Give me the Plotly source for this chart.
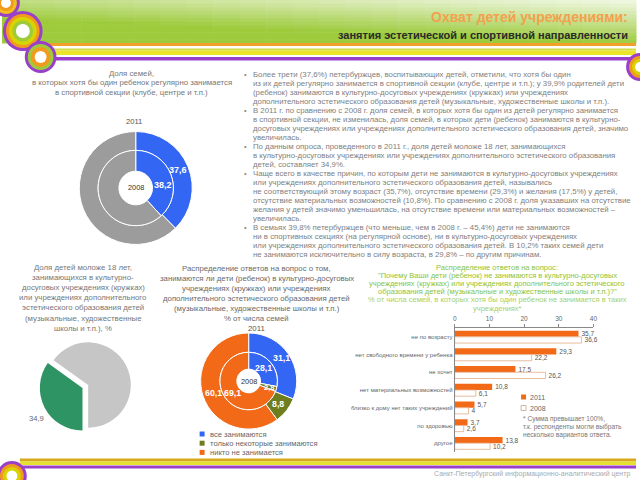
import plotly.graph_objects as go

W, H = 640, 480
FONT = "Liberation Sans, Arial, sans-serif"

# ---------------- data ----------------
sport_labels = ["занимается", "не занимается"]
sport_2011 = [37.6, 62.4]
sport_2008 = [38.2, 61.8]

kids_labels = ["занимаются", "не занимаются"]
kids_values = [34.9, 65.1]

cult_labels = ["все занимаются", "только некоторые занимаются", "никто не занимается"]
cult_2011 = [31.1, 8.8, 60.1]
cult_2008 = [28.1, 2.8, 69.1]

reasons = ["не по возрасту", "нет свободного времени у ребенка", "не хочет",
           "нет материальных возможностей", "близко к дому нет таких учреждений",
           "по здоровью", "другое"]
reasons_2011 = [35.7, 29.3, 17.5, 10.8, 5.7, 3.7, 13.8]
reasons_2008 = [36.6, 22.2, 26.2, 6.1, 4.0, 2.6, 10.2]
bar_ticks = [0, 10, 20, 30, 40]
bar_years = ["2011", "2008"]


def fmt(v):
    return f"{v:g}".replace(".", ",")


def dom(cx, cy, r):
    return dict(x=[(cx - r) / W, (cx + r) / W], y=[1 - (cy + r) / H, 1 - (cy - r) / H])


BLUE, OLIVE, ORANGE = "#3366f2", "#6e7d1e", "#f26a18"
GRAY_D, GRAY_L, GREEN = "#9c9c9c", "#c6c6c6", "#2f9463"

fig = go.Figure()

# top-left nested donut (sport)
fig.add_trace(go.Pie(values=sport_2011, labels=sport_labels, sort=False, direction="clockwise",
                     hole=38 / 57, domain=dom(135, 188, 57), textinfo="none", hoverinfo="skip",
                     marker=dict(colors=[BLUE, GRAY_D], line=dict(color="white", width=1)), showlegend=False))
fig.add_trace(go.Pie(values=sport_2008, labels=sport_labels, sort=False, direction="clockwise",
                     hole=17 / 38, domain=dom(135, 188, 38), textinfo="none", hoverinfo="skip",
                     marker=dict(colors=[BLUE, GRAY_D], line=dict(color="white", width=1)), showlegend=False))

# bottom-left pie (kids)
fig.add_trace(go.Pie(values=kids_values, labels=kids_labels, sort=False, direction="clockwise",
                     rotation=180, pull=[0.15, 0], domain=dom(87, 385, 49.5), textinfo="none",
                     hoverinfo="skip", marker=dict(colors=[GREEN, GRAY_L], line=dict(color="white", width=0)),
                     showlegend=False))

# bottom-middle nested donut (culture)
CX, CY = 249, 381
fig.add_trace(go.Pie(values=cult_2011, labels=cult_labels, sort=False, direction="clockwise",
                     hole=29 / 48.5, domain=dom(CX, CY, 48.5), textinfo="none", hoverinfo="skip",
                     marker=dict(colors=[BLUE, OLIVE, ORANGE], line=dict(color="white", width=1)), showlegend=False))
fig.add_trace(go.Pie(values=cult_2008, labels=cult_labels, sort=False, direction="clockwise",
                     hole=12 / 29, domain=dom(CX, CY, 29), textinfo="none", hoverinfo="skip",
                     marker=dict(colors=[BLUE, OLIVE, ORANGE], line=dict(color="white", width=1)), showlegend=False))

# bar chart
fig.add_trace(go.Bar(y=reasons, x=reasons_2011, orientation="h", name=bar_years[0],
                     marker=dict(color=ORANGE, line=dict(width=0)),
                     text=[fmt(v) for v in reasons_2011], textposition="outside", constraintext="none",
                     textfont=dict(family=FONT, size=6.5, color="#555"), cliponaxis=False, showlegend=False))
fig.add_trace(go.Bar(y=reasons, x=reasons_2008, orientation="h", name=bar_years[1],
                     marker=dict(color="white", line=dict(color="#e2ac86", width=0.8)),
                     text=[fmt(v) for v in reasons_2008], textposition="outside", constraintext="none",
                     textfont=dict(family=FONT, size=6.5, color="#555"), cliponaxis=False, showlegend=False))

shapes = []
ann = []


def txt(s, x, y, size=7.6, color="#777", xa="center", ya="middle", bold=False):
    if bold:
        s = f"<b>{s}</b>"
    ann.append(dict(text=s, x=x / W, y=1 - y / H, xref="paper", yref="paper", xanchor=xa, yanchor=ya,
                    showarrow=False, borderpad=0, font=dict(family=FONT, size=size, color=color)))


def rect(x0, y0, x1, y1, color, layer="below"):
    shapes.append(dict(type="rect", xref="paper", yref="paper", x0=x0 / W, x1=x1 / W,
                       y0=1 - y1 / H, y1=1 - y0 / H, fillcolor=color, line=dict(width=0), layer=layer))


def circ(cx, cy, r, color, layer="below"):
    shapes.append(dict(type="circle", xref="paper", yref="paper", x0=(cx - r) / W, x1=(cx + r) / W,
                       y0=1 - (cy + r) / H, y1=1 - (cy - r) / H, fillcolor=color, line=dict(width=0),
                       layer=layer))


# header gradient
cols, rows = 24, 12
g = (157, 203, 60)
for i in range(cols):
    for j in range(rows):
        x0, x1 = i * W / cols, (i + 1) * W / cols
        y0, y1 = j * 43 / rows, (j + 1) * 43 / rows
        xm, ym = (x0 + x1) / 2, (y0 + y1) / 2
        t = min(1.0, max(0.0, 0.12 + ym / 43 * 0.85 + (1 - xm / W) * 0.5))
        c = tuple(int(255 + (gc - 255) * t) for gc in g)
        rect(x0, y0, x1 + 0.5, y1 + 0.5, "rgb(%d,%d,%d)" % c)

# header stripes
rect(45, 43, 640, 46, "#f2a02a")
rect(45, 48.5, 640, 50.5, "#cfdc46")
rect(45, 50.5, 640, 55, "#ece428")
rect(50, 57, 640, 60.5, "#9a3fc8")
# footer stripes
rect(18, 458.5, 640, 461.5, "#d8a81c")
rect(18, 461.5, 640, 465, "#e6e030")
rect(18, 465.5, 640, 468.5, "#9a3fc8")

PURP, ORG, YEL, LGR = "#9a3fc8", "#f29a1e", "#d8d400", "#9dcb3c"
for cx, cy, rings in [
    (4, 3, [(14, PURP), (11, "#f2c01e"), (8, ORG), (5, "white")]),
    (21, 31, [(20, PURP), (17, ORG), (14, YEL), (10.5, LGR), (7, "white")]),
    (39, 57, [(16, PURP), (13, LGR), (10, ORG), (6, "white")]),
    (644, 67, [(14, PURP), (11, ORG), (8, YEL), (5, "white")]),
    (10, 476, [(15, PURP), (12, ORG), (9, YEL), (5.5, "white")]),
]:
    for r, c in rings:
        circ(cx, cy, r, c)

# titles
txt("Охват детей учреждениями:", 633, 17, size=14, color="#f4a04e", xa="right", bold=True)
txt("занятия эстетической и спортивной направленности", 633, 35, size=11, color="#2a2a2a", xa="right", bold=True)

# text block
lines = [
    "Более трети (37,6%) петербуржцев, воспитывающих детей, отметили, что хотя бы один",
    "из их детей регулярно занимается в спортивной секции (клубе, центре и т.п.); у 39,9% родителей дети",
    "(ребенок) занимаются в культурно-досуговых учреждениях (кружках) или учреждениях",
    "дополнительного эстетического образования детей (музыкальные, художественные школы и т.п.).",
    "В 2011 г. по сравнению с 2008 г. доля семей, в которых хотя бы один из детей регулярно занимается",
    "в спортивной секции, не изменилась, доля семей, в которых дети (ребенок) занимаются в культурно-",
    "досуговых учреждениях или учреждениях дополнительного эстетического образования детей, значимо",
    "увеличилась.",
    "По данным опроса, проведенного в 2011 г., доля детей моложе 18 лет, занимающихся",
    "в культурно-досуговых учреждениях или учреждениях дополнительного эстетического образования",
    "детей, составляет 34,9%.",
    "Чаще всего в качестве причин, по которым дети не занимаются в культурно-досуговых учреждениях",
    "или учреждениях дополнительного эстетического образования детей, назывались",
    "не соответствующий этому возраст (35,7%), отсутствие времени (29,3%) и желания (17,5%) у детей,",
    "отсутствие материальных возможностей (10,8%). По сравнению с 2008 г. доля указавших на отсутствие",
    "желания у детей значимо уменьшилась, на отсутствие времени или материальных возможностей –",
    "увеличилась.",
    "В семьях 39,8% петербуржцев (что меньше, чем в 2008 г. – 45,4%) дети не занимаются",
    "ни в спортивных секциях (на регулярной основе), ни в культурно-досуговых учреждениях",
    "или учреждениях дополнительного эстетического образования детей. В 10,2% таких семей дети",
    "не занимаются исключительно в силу возраста, в 29,8% – по другим причинам.",
]
bullets = {0, 4, 8, 11, 17}
for i, s in enumerate(lines):
    y = 74.5 + 9.0 * i
    txt(s, 252, y, size=7.8, color="#808080", xa="left")
    if i in bullets:
        txt("•", 243, y, size=7.5, color="#8a8a8a", xa="left")

# top-left donut texts
for k, s in enumerate(["Доля семей,", "в которых хотя бы один ребенок регулярно занимается",
                       "в спортивной секции (клубе, центре и т.п.)"]):
    txt(s, 131, 73 + 10 * k, size=7.8)
txt("2011", 133, 121, size=7.6, color="#555")
txt("2008", 135, 188, size=7.4, color="#333")
txt(fmt(sport_2011[0]), 178, 170, size=9, color="white", bold=True)
txt(fmt(sport_2008[0]), 163, 185, size=9, color="white", bold=True)

# bottom-left pie texts
for k, s in enumerate(["Доля детей моложе 18 лет,", "занимающихся в культурно-",
                       "досуговых учреждениях (кружках)", "или учреждениях дополнительного",
                       "эстетического образования детей", "(музыкальные, художественные",
                       "школы и т.п.), %"]):
    txt(s, 82, 267 + 10.2 * k, size=7.8)
txt(fmt(kids_values[0]), 35, 418, size=7.6, color="#666")

# bottom-middle donut texts
for k, s in enumerate(["Распределение ответов на вопрос о том,",
                       "занимаются ли дети (ребенок) в культурно-досуговых",
                       "учреждениях (кружках) или учреждениях",
                       "дополнительного эстетического образования детей",
                       "(музыкальные, художественные школы и т.п.)",
                       "% от числа семей", "2011"]):
    txt(s, 257, 268 + 10.1 * k, size=7.8, color="#6a6a6a" if k < 6 else "#555")
txt("2008", CX, CY, size=7.4, color="#333")
txt(fmt(cult_2011[0]), 282, 358, size=8.8, color="white", bold=True)
txt(fmt(cult_2008[0]), 264, 368, size=8.8, color="white", bold=True)
txt(fmt(cult_2008[1]), 270, 387, size=7.5, color="white", bold=True)
txt(fmt(cult_2011[1]), 279, 404, size=8.8, color="white", bold=True)
txt(fmt(cult_2011[2]), 213, 393, size=8.8, color="white", bold=True)
txt(fmt(cult_2008[2]), 233, 393, size=8.8, color="white", bold=True)

for k, (lab, c) in enumerate(zip(cult_labels, [BLUE, OLIVE, ORANGE])):
    y = 434 + 9.2 * k
    rect(199.5, y - 2.5, 204.5, y + 2.5, c, layer="above")
    txt(lab, 209, y, size=7.6, color="#666", xa="left")

# bar chart texts
btitle = ["Распределение ответов на вопрос:",
          "\"Почему Ваши дети (ребенок) не занимаются в культурно-досуговых",
          "учреждениях (кружках) или учреждениях дополнительного эстетического",
          "образования детей (музыкальные и художественные школы и т.п.)?\"",
          "% от числа семей, в которых хотя бы один ребенок не занимается в таких",
          "учреждениях*"]
for k, s in enumerate(btitle):
    txt(s, 500, 267 + 8.2 * k, size=7.5, color="#8cc43a" if k < 4 else "#a6d06a")

rect(524, 394.5, 529, 399.5, ORANGE, layer="above")
shapes.append(dict(type="rect", xref="paper", yref="paper", x0=524 / W, x1=529 / W,
                   y0=1 - 410.5 / H, y1=1 - 405.5 / H, fillcolor="white",
                   line=dict(color="#c9a58a", width=0.8), layer="above"))
txt(bar_years[0], 532, 397, size=7, color="#666", xa="left")
txt(bar_years[1], 532, 408, size=7, color="#666", xa="left")
for k, s in enumerate(["* Сумма превышает 100%,", "т.к. респонденты могли выбрать",
                       "несколько вариантов ответа."]):
    txt(s, 525, 419 + 8 * k, size=6.6, color="#777", xa="left")

txt("Санкт-Петербургский информационно-аналитический центр", 635, 474, size=7, color="#aaaaaa", xa="right")

fig.update_layout(
    width=W, height=H, margin=dict(l=0, r=0, t=0, b=0),
    paper_bgcolor="white", plot_bgcolor="white", showlegend=False,
    separators=", ", barmode="group", bargap=0.3, bargroupgap=0,
    shapes=shapes, annotations=ann,
    font=dict(family=FONT, color="#666"),
    xaxis=dict(domain=[457 / W, 597 / W], range=[0, 40], tickvals=bar_ticks, side="top",
               ticks="outside", ticklen=3, tickcolor="#888", showline=True, linecolor="#888",
               linewidth=1, showgrid=False, zeroline=False, fixedrange=True,
               tickfont=dict(family=FONT, size=6.5, color="#666")),
    yaxis=dict(domain=[1 - 452 / H, 1 - 328 / H], type="category", autorange="reversed",
               showline=True, linecolor="#888", linewidth=1, showgrid=False, ticks="",
               tickfont=dict(family=FONT, size=6, color="#666")),
)

fig.write_html("out.html")
